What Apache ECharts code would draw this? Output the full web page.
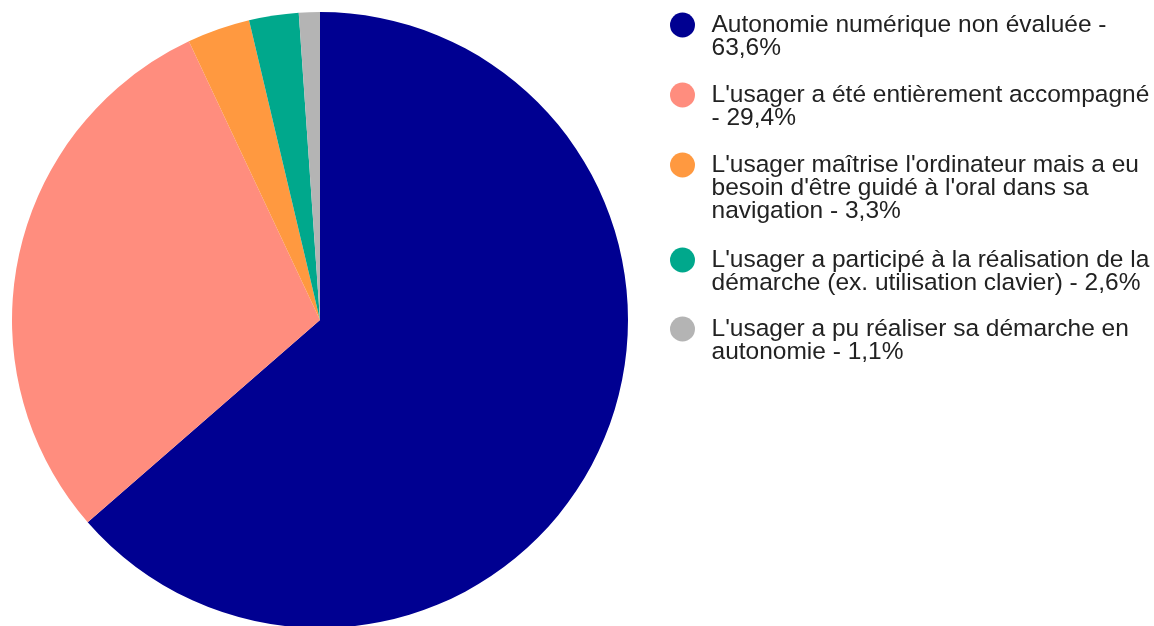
<!DOCTYPE html>
<html>
<head>
<meta charset="utf-8">
<title>Autonomie numérique</title>
<script src="https://cdn.jsdelivr.net/npm/echarts@6/dist/echarts.min.js"></script>
<style>
  html, body { margin: 0; padding: 0; background: #fff; }
  #chart { width: 1154px; height: 626px; }
</style>
</head>
<body>
<div id="chart"></div>
<script>
// libellés des parts
var labels = [
  "Autonomie numérique non évaluée",
  "L'usager a été entièrement accompagné",
  "L'usager maîtrise l'ordinateur mais a eu besoin d'être guidé à l'oral dans sa navigation",
  "L'usager a participé à la réalisation de la démarche (ex. utilisation clavier)",
  "L'usager a pu réaliser sa démarche en autonomie"
];
// pourcentages
var values = [63.6, 29.4, 3.3, 2.6, 1.1];
// couleurs des parts
var colors = ["#000091", "#ff8d7e", "#ff9940", "#00a88c", "#b4b4b4"];
// mots après lesquels la légende passe à la ligne
var breakAfter = [
  ["évaluée -"],
  ["accompagné"],
  ["a eu", "dans sa"],
  ["de la"],
  ["démarche en"]
];

// centre vertical de chaque pastille
var legendCenters = [24, 94, 164, 259, 328];
var lineH = 23;

function legendText(i) {
  var txt = labels[i] + " - " + String(values[i]).replace(".", ",") + "%";
  breakAfter[i].forEach(function (w) {
    txt = txt.replace(w + " ", w + "\n");
  });
  return txt;
}

var legends = [];
for (var i = 0; i < labels.length; i++) {
  var txt = legendText(i);
  var n = txt.split("\n").length;
  // lignes vides devant pour centrer la pastille sur la 1re ligne
  var shown = new Array(n).join("\n") + txt;
  legends.push({
    orient: "vertical",
    left: 670,
    top: legendCenters[i] - (2 * n - 1) * lineH / 2,
    padding: 0,
    icon: "circle",
    itemWidth: 48,
    itemHeight: 25,
    selectedMode: false,
    data: [labels[i]],
    formatter: (function (s) { return function () { return s; }; })(shown),
    textStyle: {
      fontFamily: "Arial, 'Liberation Sans', sans-serif",
      fontSize: 24.5,
      color: "#222",
      lineHeight: lineH
    }
  });
}

var data = [];
for (var j = 0; j < labels.length; j++) {
  data.push({ name: labels[j], value: values[j] });
}

var chart = echarts.init(document.getElementById("chart"));
chart.setOption({
  animation: false,
  color: colors,
  legend: legends,
  series: [{
    type: "pie",
    center: [320, 320],
    radius: 308,
    startAngle: 90,
    clockwise: true,
    label: { show: false },
    labelLine: { show: false },
    emphasis: { disabled: true },
    itemStyle: { borderWidth: 0 },
    data: data
  }]
});
</script>
</body>
</html>
